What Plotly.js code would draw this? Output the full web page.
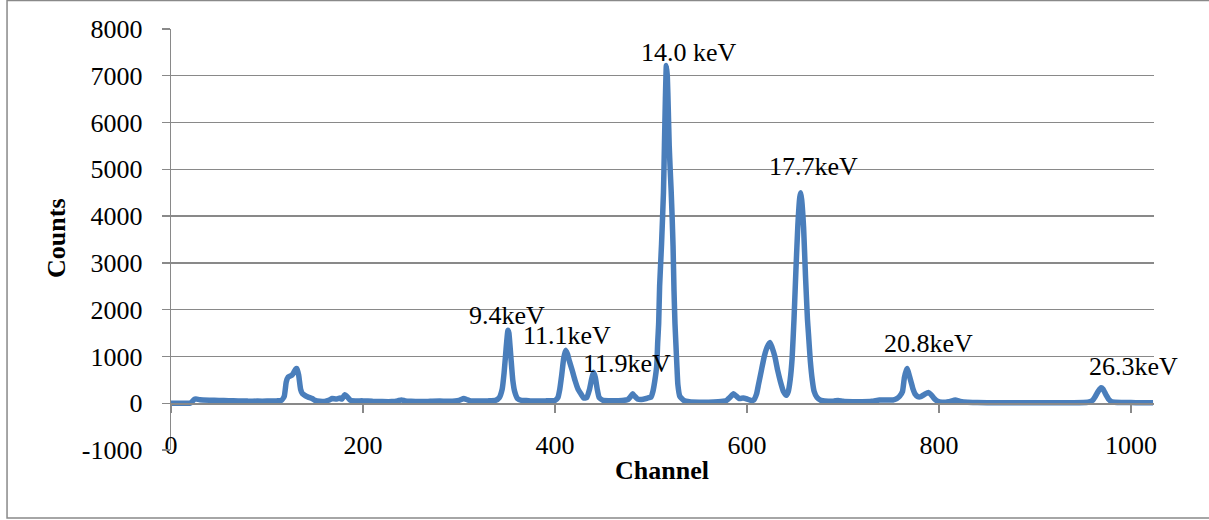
<!DOCTYPE html>
<html>
<head>
<meta charset="utf-8">
<script src="https://cdn.plot.ly/plotly-3.0.1.min.js"></script>
<style>
  html, body { margin: 0; padding: 0; background: #ffffff; }
  #chart { width: 1209px; height: 520px; }
</style>
</head>
<body>
<div id="chart"></div>
<script>
// X-ray spectrum: counts per MCA channel
const channel = [
  0, 5, 10, 15, 20, 22, 24, 26, 30, 40, 50, 60, 70, 80, 90, 100, 110, 115, 118, 120,
  122, 124, 126, 128, 130, 131, 133, 135, 137, 140, 143, 147, 150, 155, 160, 165, 168, 172, 176, 178,
  181, 184, 187, 192, 200, 210, 220, 230, 236, 240, 244, 250, 260, 270, 280, 290, 300, 305, 308, 312,
  320, 330, 338, 342, 345, 347, 349, 351, 352, 354, 356, 358, 361, 365, 370, 375, 380, 390, 400, 403,
  405, 407, 409, 411, 413, 415, 418, 421, 424, 427, 430, 433, 436, 438, 440, 442, 444, 446, 450, 460,
  470, 476, 479, 481, 483, 486, 490, 495, 498, 500, 502, 504, 506, 507, 508, 509, 511, 513, 514, 515,
  516, 517, 518, 519, 520, 521, 522, 523, 524, 525, 526, 527, 528, 530, 534, 540, 550, 560, 570, 578,
  582, 586, 589, 592, 596, 600, 604, 607, 610, 612, 615, 618, 621, 624, 626, 629, 632, 635, 638, 641,
  643, 645, 647, 649, 651, 653, 655, 656, 657, 659, 661, 663, 664, 666, 668, 670, 673, 677, 681, 690,
  695, 700, 710, 720, 730, 738, 745, 752, 756, 759, 762, 764, 766, 767, 769, 771, 773, 775, 778, 781,
  785, 789, 792, 795, 798, 803, 810, 817, 822, 830, 840, 860, 880, 900, 920, 940, 955, 960, 963, 966,
  969, 971, 974, 977, 980, 990, 1000, 1010, 1023
];
const counts = [
  0, 0, 0, 0, 0, 30, 80, 90, 75, 65, 60, 55, 50, 45, 45, 45, 50, 60, 150, 450,
  560, 580, 600, 660, 730, 740, 600, 300, 200, 160, 130, 100, 60, 40, 40, 70, 100, 90, 110, 90,
  180, 130, 60, 50, 50, 40, 35, 35, 50, 70, 50, 40, 35, 40, 45, 40, 60, 100, 80, 50,
  45, 50, 60, 120, 300, 650, 1150, 1560, 1500, 1000, 500, 250, 100, 60, 60, 50, 50, 50, 60, 120,
  300, 600, 950, 1130, 1050, 900, 700, 480, 300, 200, 110, 120, 300, 500, 660, 550, 300, 120, 60, 55,
  60, 80, 150, 200, 150, 90, 80, 100, 120, 130, 250, 480, 800, 1300, 1700, 2500, 3400, 4500, 5500, 6500,
  7220, 7000, 6300, 5500, 5000, 4550, 4000, 3350, 2400, 1700, 1250, 800, 400, 150, 60, 30, 20, 20, 30, 50,
  120, 200, 150, 100, 110, 90, 60, 70, 200, 400, 700, 1000, 1200, 1300, 1200, 1000, 700, 450, 250, 170,
  250, 500, 950, 1800, 2850, 3800, 4400, 4500, 4350, 3750, 2700, 1800, 1500, 900, 500, 250, 120, 60, 50, 45,
  60, 40, 30, 30, 40, 70, 70, 70, 100, 150, 250, 550, 700, 740, 600, 450, 300, 200, 140, 140,
  190, 230, 180, 100, 50, 20, 30, 70, 40, 20, 15, 10, 10, 10, 10, 10, 20, 60, 150, 260,
  330, 300, 180, 80, 30, 15, 15, 10, 10
];

// Peak energy labels
const peakLabels = ["14.0 keV", "17.7keV", "9.4keV", "11.1keV", "11.9keV", "20.8keV", "26.3keV"];
const labelChannel = [540, 669, 350.5, 412, 475, 789, 1003];
const labelCounts = [7490, 5050, 1886, 1444, 851, 1283, 782];

const xTicks = [0, 200, 400, 600, 800, 1000];
const yTicks = [-1000, 0, 1000, 2000, 3000, 4000, 5000, 6000, 7000, 8000];

const serif = "'Liberation Serif', 'Times New Roman', serif";
const gridGray = "#898989";
const blue = "#4A7EBB";

const trace = {
  x: channel,
  y: counts,
  type: "scatter",
  mode: "lines",
  line: { color: blue, width: 5.5, shape: "spline", smoothing: 0.4 },
  hoverinfo: "x+y"
};

const annotations = peakLabels.map((t, i) => ({
  x: labelChannel[i],
  y: labelCounts[i],
  xref: "x",
  yref: "y",
  text: t,
  showarrow: false,
  xanchor: "center",
  yanchor: "middle",
  font: { family: serif, size: 26, color: "#000000" }
}));

annotations.push({
  x: -0.116, y: 0.5037, xref: "paper", yref: "paper",
  text: "<b>Counts</b>", textangle: -90, showarrow: false,
  xanchor: "center", yanchor: "middle",
  font: { family: serif, size: 26, color: "#000000" }
});
annotations.push({
  x: 0.4995, y: -0.0483, xref: "paper", yref: "paper",
  text: "<b>Channel</b>", showarrow: false,
  xanchor: "center", yanchor: "middle",
  font: { family: serif, size: 26, color: "#000000" }
});

const layout = {
  width: 1209,
  height: 520,
  margin: { l: 171, r: 55, t: 29, b: 70, pad: 0 },
  paper_bgcolor: "#ffffff",
  plot_bgcolor: "#ffffff",
  showlegend: false,
  xaxis: {
    range: [0, 1024],
    tickmode: "array",
    tickvals: xTicks,
    ticktext: xTicks.map(String),
    ticks: "outside",
    ticklen: 8,
    tickwidth: 1.3,
    tickcolor: gridGray,
    ticklabelstandoff: 10,
    showgrid: false,
    zeroline: false,
    showline: true,
    linecolor: gridGray,
    linewidth: 1.3,
    anchor: "free",
    position: 1 / 9,
    tickfont: { family: serif, size: 26, color: "#000000" }
  },
  yaxis: {
    range: [-1000, 8000],
    tickmode: "array",
    tickvals: yTicks,
    ticktext: yTicks.map(v => String(v)),
    ticks: "outside",
    ticklen: 8,
    tickwidth: 1.3,
    tickcolor: gridGray,
    ticklabelstandoff: 14,
    showgrid: true,
    gridcolor: gridGray,
    gridwidth: 1.3,
    zeroline: false,
    showline: true,
    linecolor: gridGray,
    linewidth: 1.3,
    tickfont: { family: serif, size: 26, color: "#000000" }
  },
  annotations: annotations,
  shapes: [{
    type: "rect",
    xref: "paper", yref: "paper",
    x0: -0.1668, x1: 1.062, y0: -0.1618, y1: 1.0676,
    line: { color: gridGray, width: 1.5 },
    fillcolor: "rgba(0,0,0,0)",
    layer: "below"
  }]
};

Plotly.newPlot("chart", [trace], layout, { displayModeBar: false, staticPlot: true });
</script>
</body>
</html>
